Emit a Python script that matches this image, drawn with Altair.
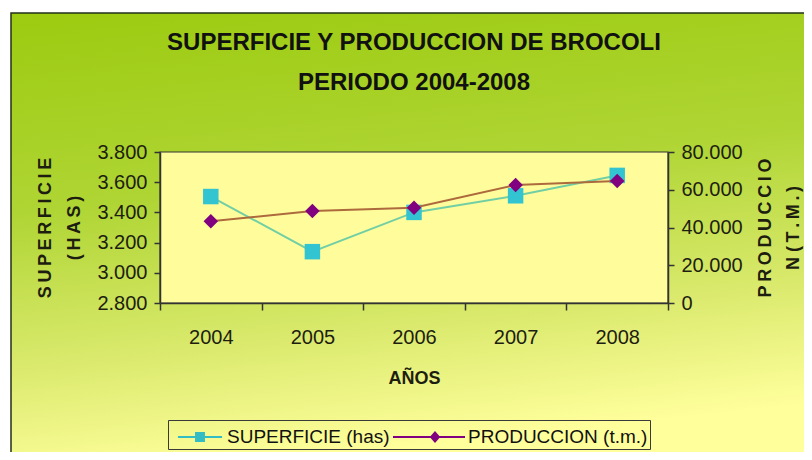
import altair as alt
import pandas as pd

# ---------------- data ----------------
years = ["2004", "2005", "2006", "2007", "2008"]
superficie = [3505, 3140, 3400, 3510, 3645]          # has (left axis)
produccion = [43300, 48700, 50500, 62500, 64600]      # t.m. (right axis)
series_names = ["SUPERFICIE (has)", "PRODUCCION (t.m.)"]
left_ticks = [2800, 3000, 3200, 3400, 3600, 3800]
right_ticks = [0, 20000, 40000, 60000, 80000]
title_lines = ["SUPERFICIE Y PRODUCCION DE BROCOLI", "PERIODO 2004-2008"]
x_title = "AÑOS"
TS = "\u2009"  # thin space used as letter spacing in the axis titles
left_title = [TS.join("SUPERFICIE"), TS.join("(HAS)")]
right_title = [TS.join("PRODUCCIO"), "N " + TS.join("(T.M.)")]

W, H = 508, 151
FONT = "Liberation Sans"
AXC = "#333333"
TXT = "#1e1e10"

sup_df = pd.DataFrame({"year": years, "value": superficie})
prod_df = pd.DataFrame({"year": years, "value": produccion})
leg_df = pd.DataFrame({"series": series_names})

fmt = "replace(format(datum.value, ',.0f'), ',', '.')"

x_enc = alt.X(
    "year:N",
    scale=alt.Scale(domain=years, paddingInner=0, paddingOuter=0),
    axis=alt.Axis(
        title=x_title, labelAngle=0, tickBand="extent", tickSize=7,
        labelFontSize=20, labelFont=FONT, labelColor=TXT, labelPadding=17,
        titleFontSize=18, titleFont=FONT, titleFontWeight="bold", titleColor=TXT,
        titleY=75, titleBaseline="middle",
        domainColor=AXC, tickColor=AXC, domainWidth=1.5, tickWidth=1.5,
        grid=False, zindex=1,
    ),
)

# background gradient panel
bg = alt.Chart(alt.Data(values=[{}])).mark_rect(
    fill=alt.Gradient(
        gradient="linear",
        stops=[
            alt.GradientStop(color="#9ccb10", offset=0),
            alt.GradientStop(color="#afd534", offset=0.42),
            alt.GradientStop(color="#dbea6e", offset=0.75),
            alt.GradientStop(color="#ffff9c", offset=1),
        ],
        x1=0, y1=0, x2=0.2, y2=1,
    ),
    stroke="#22301a", strokeWidth=1.5,
).encode(x=alt.value(-149), x2=alt.value(700), y=alt.value(-139), y2=alt.value(320))

plot_bg = alt.Chart(alt.Data(values=[{}])).mark_rect(
    fill="#fffc9c", stroke=AXC, strokeWidth=1.2
).encode(x=alt.value(0), x2=alt.value(W), y=alt.value(0), y2=alt.value(H))

y_left = alt.Y(
    "value:Q",
    scale=alt.Scale(domain=[2800, 3800], nice=False, zero=False),
    axis=alt.Axis(
        title=left_title, values=left_ticks, labelExpr=fmt, orient="left",
        labelFontSize=20, labelFont=FONT, labelColor=TXT, labelPadding=7,
        tickSize=6, tickColor=AXC, domainColor=AXC, domainWidth=1.5, tickWidth=1.5,
        titleFontSize=18, titleFont=FONT, titleFontWeight="bold", titleColor=TXT,
        titleAngle=270, titleAlign="center", titleBaseline="middle",
        titleX=-115, titleY=H / 2, titleLineHeight=29,
        grid=False, zindex=1,
    ),
)

y_right = alt.Y(
    "value:Q",
    scale=alt.Scale(domain=[0, 80000], nice=False),
    axis=alt.Axis(
        title=right_title, values=right_ticks, labelExpr=fmt, orient="right",
        labelFontSize=20, labelFont=FONT, labelColor=TXT, labelPadding=7,
        tickSize=6, tickColor=AXC, domainColor=AXC, domainWidth=1.5, tickWidth=1.5,
        titleFontSize=18, titleFont=FONT, titleFontWeight="bold", titleColor=TXT,
        titleAngle=270, titleAlign="center", titleBaseline="middle",
        titleX=97, titleY=H / 2, titleLineHeight=28,
        grid=False, zindex=1,
    ),
)

sup_line = alt.Chart(sup_df).mark_line(color="#72cfa4", strokeWidth=2).encode(x=x_enc, y=y_left)
sup_pts = alt.Chart(sup_df).mark_point(
    shape="square", filled=True, size=240, color="#33c4d2", opacity=1
).encode(x=x_enc, y=y_left)

# legend symbols: line segment + marker (unit = 15 px)
sq_path = "M-0.47,-0.07H2.47V0.07H-0.47Z M0.67,-0.33H1.33V0.33H0.67Z"
dm_path = "M-2.2,-0.07H2.6V0.07H-2.2Z M0.6,-0.4L0.95,0L0.6,0.4L0.25,0Z"

legend = alt.Legend(
    title=None, orient="none", legendX=8, legendY=268, direction="horizontal",
    strokeColor="#3a3a3a", padding=2, symbolSize=900, symbolStrokeWidth=0,
    symbolOpacity=1, labelFontSize=19, labelFont=FONT, labelColor="#111111",
    labelLimit=0, columnPadding=3, labelOffset=27,
)
leg_layer = alt.Chart(leg_df).mark_point(filled=True, clip=True, size=10, opacity=1).encode(
    x=alt.value(-500), y=alt.value(-500),
    color=alt.Color("series:N", scale=alt.Scale(domain=series_names, range=["#33bcc4", "#800080"]), legend=legend),
    shape=alt.Shape("series:N", scale=alt.Scale(domain=series_names, range=[sq_path, dm_path]), legend=legend),
)

prod_line = alt.Chart(prod_df).mark_line(color="#ad6a3c", strokeWidth=2).encode(x=x_enc, y=y_right)
prod_pts = alt.Chart(prod_df).mark_point(
    shape="diamond", filled=True, size=210, color="#800080", opacity=1
).encode(x=x_enc, y=y_right)

left = alt.layer(bg, plot_bg, sup_line, sup_pts, leg_layer)
right = alt.layer(prod_line, prod_pts)

chart = alt.layer(left, right).resolve_scale(y="independent").properties(
    width=W, height=H,
    autosize=alt.AutoSizeParams(type="none"),
    padding={"left": 152, "top": 144, "right": 136, "bottom": 149},
    title=alt.TitleParams(
        text=title_lines, fontSize=24, font=FONT, fontWeight="bold", color="#111111",
        lineHeight=40, anchor="middle", offset=-83, frame="group",
    ),
).configure_view(stroke=None).configure(background="#ffffff")

chart.save("out.html", embed_options={"renderer": "svg", "actions": False})
